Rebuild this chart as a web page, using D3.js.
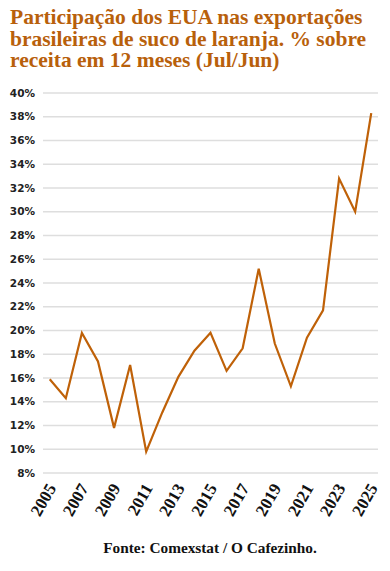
<!DOCTYPE html>
<meta charset="utf-8">
<style>
body { margin: 0; background: #fff; }
.title { font-family: "Liberation Serif", serif; font-weight: bold; fill: #b8600b; font-size: 21.5px; }
.grid line { stroke: #dedede; stroke-width: 1.5; }
.y-label { font-family: "DejaVu Sans", sans-serif; font-weight: bold; font-size: 10.5px; fill: #222; }
.x-label { font-family: "Liberation Serif", serif; font-weight: bold; font-size: 17px; fill: #111; }
.source { font-family: "Liberation Serif", serif; font-weight: bold; font-size: 15.3px; fill: #111; }
</style>
<body>
<svg class="chart js-chart"></svg>

<script src="https://d3js.org/d3.v7.min.js"></script>
<script type="text/javascript">
"use strict";

var years = d3.range(2005, 2026);
// % da receita de exportação de suco de laranja (12 meses Jul/Jun)
var shareUSA = [15.9, 14.3, 19.8, 17.4, 11.8, 17.1, 9.8, 13.1, 16.1, 18.3, 19.8,
  16.6, 18.5, 25.2, 18.9, 15.3, 19.4, 21.7, 32.8, 30.0, 38.3];
var yTicks = [8, 10, 12, 14, 16, 18, 20, 22, 24, 26, 28, 30, 32, 34, 36, 38, 40];
var xTicks = [2005, 2007, 2009, 2011, 2013, 2015, 2017, 2019, 2021, 2023, 2025];
var titleLines = [
  "Participação dos EUA nas exportações",
  "brasileiras de suco de laranja. % sobre",
  "receita em 12 meses (Jul/Jun)"
];

var width = 390, height = 571;
var margin = {top: 93, right: 12, bottom: 98, left: 43};

var svg = d3.select('.js-chart')
  .attr('width', width)
  .attr('height', height);

var x = d3.scalePoint()
  .domain(years)
  .range([margin.left, width - margin.right])
  .padding(0.42);

var y = d3.scaleLinear()
  .domain([8, 40])
  .range([height - margin.bottom, margin.top]);

// title, one text per line
svg.append('g')
  .selectAll('text')
  .data(titleLines)
  .enter().append('text')
    .attr('class', 'title')
    .attr('x', 10)
    .attr('y', function (d, i) { return 24 + i * 21.5; })
    .text(function (d) { return d; });

// grid
svg.append('g')
  .attr('class', 'grid')
  .selectAll('line')
  .data(yTicks)
  .enter().append('line')
    .attr('x1', margin.left)
    .attr('x2', width - margin.right)
    .attr('y1', function (d) { return y(d); })
    .attr('y2', function (d) { return y(d); });

svg.append('g')
  .selectAll('text')
  .data(yTicks)
  .enter().append('text')
    .attr('class', 'y-label')
    .attr('x', 35)
    .attr('y', function (d) { return y(d); })
    .attr('dy', '0.35em')
    .attr('text-anchor', 'end')
    .text(function (d) { return d + '%'; });

svg.append('g')
  .selectAll('text')
  .data(xTicks)
  .enter().append('text')
    .attr('class', 'x-label')
    .attr('text-anchor', 'end')
    .attr('transform', function (d) {
      return 'translate(' + (x(d) + 7) + ',' + (y(8) + 15) + ') rotate(-60)';
    })
    .text(function (d) { return d; });

var line = d3.line()
  .x(function (d, i) { return x(years[i]); })
  .y(function (d) { return y(d); });

svg.append('path')
  .datum(shareUSA)
  .attr('d', line)
  .attr('fill', 'none')
  .attr('stroke', '#bf6108')
  .attr('stroke-width', 2.2)
  .attr('stroke-linejoin', 'miter');

svg.append('text')
  .attr('class', 'source')
  .attr('x', 210)
  .attr('y', 553)
  .attr('text-anchor', 'middle')
  .text('Fonte: Comexstat / O Cafezinho.');
</script>
</body>
